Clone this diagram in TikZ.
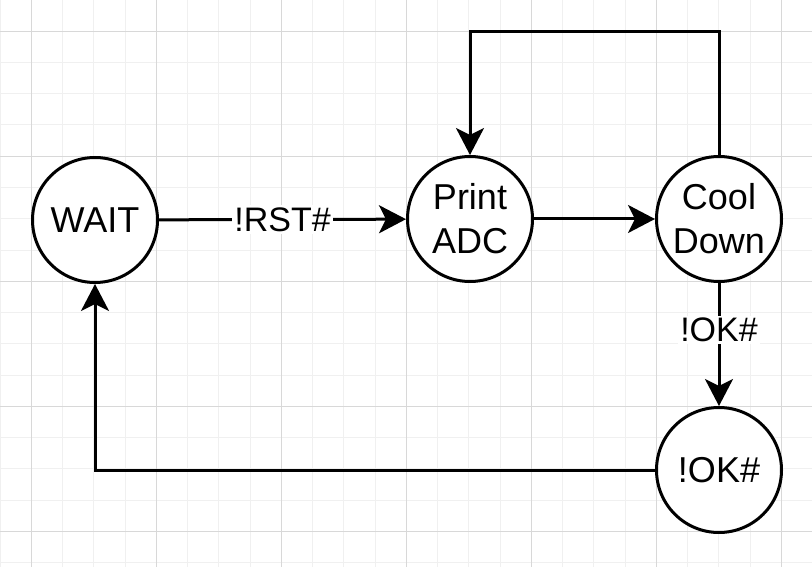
\documentclass[tikz,border=0pt]{standalone}
\usepackage{fontspec}
\setmainfont{Liberation Sans}
\usepackage{tikz}
\usetikzlibrary{arrows.meta, positioning, calc}
\definecolor{gridminor}{HTML}{F0F0F0}
\definecolor{gridmajor}{HTML}{D8D8D8}

\begin{document}
\begin{tikzpicture}[
    x=1pt, y=-1pt,
    state/.style={circle, draw=black, line width=3pt, fill=white, minimum size=125pt, inner sep=0pt, align=center, font=\fontsize{36}{44}\selectfont},
    arrow/.style={-{Stealth[length=27pt, width=28pt, inset=7pt]}, line width=3pt, color=black},
    guard/.style={fill=white, inner sep=2pt, font=\fontsize{34}{40}\selectfont}
]
\useasboundingbox (0,0) rectangle (812,567);
\fill[white] (0,0) rectangle (812,567);

% Background grid
\foreach \k in {0,...,25} \draw[gridminor, line width=1pt] (\k*31.25,0) -- (\k*31.25,567);
\foreach \k in {0,...,18} \draw[gridminor, line width=1pt] (0,\k*31.25) -- (812,\k*31.25);
\foreach \k in {0,...,6} \draw[gridmajor, line width=1pt] (31.25+\k*125,0) -- (31.25+\k*125,567);
\foreach \k in {0,...,4} \draw[gridmajor, line width=1pt] (0,31.25+\k*125) -- (812,31.25+\k*125);

% States
\node[state] (wait) at (95,220) {WAIT};
\node[state] (print) at (470,219) {Print\\ADC};
\node[state] (cool) at (719,219) {Cool\\Down};
\node[state] (ok) at (719,470) {!OK\#};
\coordinate (loop) at (470,32);

% Transitions
\draw[arrow] (wait) -- node[guard] {!RST\#} (print);
\draw[arrow] (print) -- (cool);
\draw[arrow] (cool.north) |- (loop) -- (print.north);
\draw[arrow] (cool) -- node[guard, pos=0.38] {!OK\#} (ok);
\draw[arrow] (ok.west) -| (wait.south);

\end{tikzpicture}
\end{document}
